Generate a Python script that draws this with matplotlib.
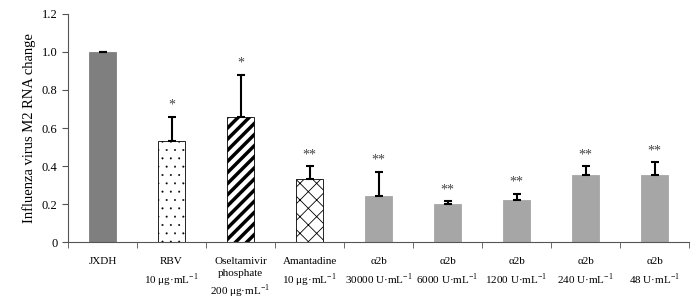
import numpy as np
import matplotlib as mpl
mpl.use('Agg')
import matplotlib.pyplot as plt

labels = ["JXDH", "RBV\n10 \u03bcg\u00b7mL$^{-1}$", "Oseltamivir\nphosphate\n200 \u03bcg\u00b7mL$^{-1}$",
          "Amantadine\n10 \u03bcg\u00b7mL$^{-1}$", "\u03b12b\n30000 U\u00b7mL$^{-1}$", "\u03b12b\n6000 U\u00b7mL$^{-1}$",
          "\u03b12b\n1200 U\u00b7mL$^{-1}$", "\u03b12b\n240 U\u00b7mL$^{-1}$", "\u03b12b\n48 U\u00b7mL$^{-1}$"]
values = [1.0, 0.53, 0.66, 0.33, 0.245, 0.20, 0.22, 0.355, 0.355]
errors = [0.0, 0.13, 0.22, 0.07, 0.125, 0.015, 0.035, 0.045, 0.065]
stars = ["", "*", "*", "**", "**", "**", "**", "**", "**"]

plt.rcParams['font.family'] = ['Liberation Serif', 'DejaVu Serif']
plt.rcParams['mathtext.fontset'] = 'custom'
plt.rcParams['mathtext.rm'] = 'Liberation Serif'

fig = plt.figure(figsize=(6.97, 3.03), dpi=100)
ax = fig.add_axes([0.0976, 0.201, 0.891, 0.753])

x = np.arange(len(values))
w = 0.4
fills = ['#7f7f7f', 'white', 'white', 'white'] + ['#a6a6a6'] * 5
hatches = [None, '..', '///', 'xx'] + [None] * 5
hatch_lw = [0.6, 0.2, 2.5, 0.6] + [0.6] * 5
hatch_col = ['black', '#444444', 'black', 'black'] + ['black'] * 5
edges = ['#7f7f7f', 'black', 'black', 'black'] + ['#a6a6a6'] * 5

for i in range(len(values)):
    with plt.rc_context({'hatch.linewidth': hatch_lw[i], 'hatch.color': hatch_col[i]}):
        ax.bar(x[i], values[i], w, color=fills[i], edgecolor=edges[i], hatch=hatches[i], linewidth=0.6)
    ax.errorbar(x[i], values[i], yerr=[[0], [errors[i]]], fmt='none', ecolor='black',
                elinewidth=1.5, capsize=3, capthick=1.5)
    if stars[i]:
        ax.text(x[i], values[i] + errors[i] + 0.025, stars[i], ha='center', va='bottom',
                fontsize=10, color='#444444')

ax.set_xlim(-0.5, len(values) - 0.5)
ax.set_ylim(0, 1.2)
ax.set_yticks([0, 0.2, 0.4, 0.6, 0.8, 1.0, 1.2])
ax.set_yticklabels(['0', '0.2', '0.4', '0.6', '0.8', '1.0', '1.2'], fontsize=9)
ax.set_xticks(x)
ax.set_xticklabels(labels, fontsize=8, linespacing=1.4)
ax.tick_params(axis='x', length=0, pad=11)
ax.set_xticks(np.arange(-0.5, len(values)), minor=True)
ax.tick_params(axis='x', which='minor', length=4, color='#555555')
ax.tick_params(axis='y', length=4, color='#555555')
for s in ['top', 'right']:
    ax.spines[s].set_visible(False)
for s in ['left', 'bottom']:
    ax.spines[s].set_color('#555555')
    ax.spines[s].set_linewidth(0.8)
ax.set_ylabel('Influenza virus M2 RNA change', fontsize=10.5)

fig.savefig('out.png', dpi=100)
